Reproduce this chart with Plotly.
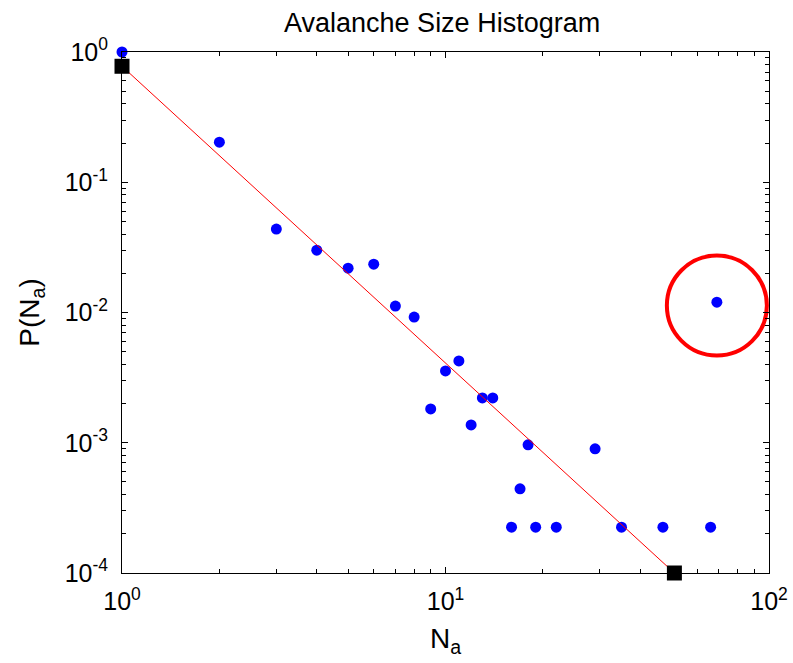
import plotly.graph_objects as go

# Data
sizes = [1, 2, 3, 4, 5, 6, 7, 8, 9, 10, 11, 12, 13, 14, 16, 17, 18, 19, 22, 29, 35, 47, 66, 69]
probs = [1.0, 0.203, 0.0437, 0.0301, 0.0219, 0.0235, 0.0112, 0.00923, 0.00182, 0.00356,
         0.00425, 0.00137, 0.00221, 0.00221, 0.000225, 0.000443, 0.000964, 0.000225,
         0.000225, 0.000898, 0.000225, 0.000225, 0.000225, 0.0120]

fit_x = [1, 51]
fit_y = [0.777, 1.0e-4]

outlier_x = [69]
outlier_y = [0.0113]

x_tickvals = [1, 10, 100]
x_ticktext = ["10<sup>0</sup>", "10<sup>1</sup>", "10<sup>2</sup>"]
y_tickvals = [1e-4, 1e-3, 1e-2, 1e-1, 1]
y_ticktext = ["10<sup>-4</sup>", "10<sup>-3</sup>", "10<sup>-2</sup>", "10<sup>-1</sup>", "10<sup>0</sup>"]

FONT = "Liberation Sans, Arial, sans-serif"

fig = go.Figure()
fig.add_trace(go.Scatter(x=sizes, y=probs, mode="markers",
                         marker=dict(color="#0000ff", size=11, line=dict(width=0)),
                         cliponaxis=False, showlegend=False))
fig.add_trace(go.Scatter(x=fit_x, y=fit_y, mode="lines",
                         line=dict(color="#ff0000", width=1),
                         cliponaxis=False, showlegend=False))
fig.add_trace(go.Scatter(x=fit_x, y=fit_y, mode="markers",
                         marker=dict(color="black", symbol="square", size=15, line=dict(width=0)),
                         cliponaxis=False, showlegend=False))
fig.add_trace(go.Scatter(x=outlier_x, y=outlier_y, mode="markers",
                         marker=dict(symbol="circle-open", size=100, color="#ff0000",
                                     line=dict(color="#ff0000", width=4)),
                         cliponaxis=False, showlegend=False))

axis_common = dict(
    type="log", showline=True, linecolor="black", linewidth=1, mirror="ticks",
    ticks="inside", ticklen=6, tickwidth=1, tickcolor="black",
    showgrid=False, zeroline=False, automargin=False,
    minor=dict(ticks="inside", ticklen=4, tickwidth=1, tickcolor="black",
               dtick="D1", showgrid=False),
    tickfont=dict(family=FONT, size=25, color="black"),
)

fig.update_layout(
    template="none",
    width=793, height=663,
    margin=dict(l=122, r=24, t=52, b=90, autoexpand=False),
    paper_bgcolor="white", plot_bgcolor="white",
    font=dict(family=FONT, color="black"),
    title=dict(text="Avalanche Size Histogram", x=0.5575, xanchor="center",
               y=1 - 23 / 663, yanchor="middle",
               font=dict(family=FONT, size=27, color="black")),
    xaxis=dict(axis_common, range=[0, 2], tickvals=x_tickvals, ticktext=x_ticktext,
               ticklabelstandoff=6,
               title=dict(text="N<sub>a</sub>", font=dict(family=FONT, size=28), standoff=14)),
    yaxis=dict(axis_common, range=[-4, 0], tickvals=y_tickvals, ticktext=y_ticktext,
               ticklabelstandoff=8,
               title=dict(text="P(N<sub>a</sub>)", font=dict(family=FONT, size=28), standoff=16)),
)

fig.write_html("out.html")
